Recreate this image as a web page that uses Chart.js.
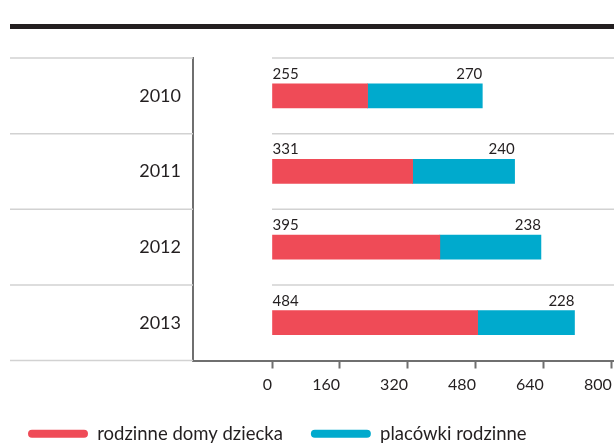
<!DOCTYPE html>
<html>
<head>
<meta charset="utf-8">
<script src="https://cdn.jsdelivr.net/npm/chart.js@4.4.1/dist/chart.umd.min.js"></script>
<style>
  html, body { margin: 0; padding: 0; background: #fff; overflow: hidden; }
  #wrap { position: relative; width: 614px; height: 443px; }
  #topRule { position: absolute; left: 10px; top: 24px; width: 604px; height: 5px; background: #231f20; }
  canvas { position: absolute; left: 0; top: 0; }
</style>
</head>
<body>
<div id="wrap">
  <canvas id="chart" width="614" height="443"></canvas>
  <div id="topRule"></div>
</div>
<script>
const years = ['2010', '2011', '2012', '2013'];
// bar lengths as drawn in the picture (the 2010 bar is drawn shorter than its printed label)
const domyValues = [225, 331, 395, 484];
const domyLabels = ['255', '331', '395', '484'];
const placowkiValues = [270, 240, 238, 228];
const placowkiLabels = ['270', '240', '238', '228'];
const xTicks = [0, 160, 320, 480, 640, 800];

const RED = '#ef4b57';
const BLUE = '#00aacd';
const FONT = 'Lato, "Open Sans", sans-serif';

// horizontal separators between years: left part under the labels, right part from value 0
const separators = {
  id: 'separators',
  beforeDatasetsDraw(chart) {
    const { ctx, scales: { x, y }, chartArea } = chart;
    const step = y.getPixelForTick(1) - y.getPixelForTick(0);
    const x0 = x.getPixelForValue(0);
    ctx.save();
    ctx.strokeStyle = '#d2d2d2';
    ctx.lineWidth = 1.5;
    for (let i = 0; i <= years.length; i++) {
      const py = y.getPixelForTick(0) - step / 2 + i * step;
      ctx.beginPath();
      ctx.moveTo(10, py);
      ctx.lineTo(chartArea.left, py);
      if (i < years.length) {
        ctx.moveTo(x0, py);
        ctx.lineTo(chart.width, py);
      }
      ctx.stroke();
    }
    ctx.restore();
  }
};

// value labels above the bars
const valueLabels = {
  id: 'valueLabels',
  afterDatasetsDraw(chart) {
    const { ctx } = chart;
    ctx.save();
    ctx.font = '15px ' + FONT;
    ctx.fillStyle = '#231f20';
    ctx.textBaseline = 'alphabetic';
    const red = chart.getDatasetMeta(0).data;
    const blue = chart.getDatasetMeta(1).data;
    red.forEach((bar, i) => {
      const top = bar.y - bar.height / 2;
      ctx.textAlign = 'left';
      ctx.fillText(domyLabels[i], bar.base, top - 5);
      ctx.textAlign = 'right';
      ctx.fillText(placowkiLabels[i], blue[i].x, top - 5);
    });
    ctx.restore();
  }
};

new Chart(document.getElementById('chart'), {
  type: 'bar',
  data: {
    labels: years,
    datasets: [
      { label: 'rodzinne domy dziecka', data: domyValues, backgroundColor: RED, borderColor: RED, barThickness: 24 },
      { label: 'placówki rodzinne', data: placowkiValues, backgroundColor: BLUE, borderColor: BLUE, barThickness: 24 }
    ]
  },
  options: {
    indexAxis: 'y',
    responsive: false,
    animation: false,
    layout: { padding: { top: 58, left: 0, right: 0, bottom: -10 } },
    scales: {
      x: {
        stacked: true,
        min: -186,
        max: 805,
        afterBuildTicks: scale => { scale.ticks = xTicks.map(v => ({ value: v })); },
        afterFit: scale => { scale.height = 36; },
        border: { display: true, color: '#6f6f6f', width: 2 },
        grid: { drawOnChartArea: false, drawTicks: true, tickLength: 8, tickColor: '#6f6f6f', tickWidth: 2 },
        ticks: { align: 'end', padding: 0, color: '#231f20', font: { family: FONT, size: 16, lineHeight: 2 }, maxRotation: 0 }
      },
      y: {
        stacked: true,
        afterFit: scale => { scale.width = 193; },
        border: { display: true, color: '#6f6f6f', width: 2 },
        grid: { display: false, drawTicks: false },
        ticks: { padding: 12, color: '#231f20', font: { family: FONT, size: 18 } }
      }
    },
    plugins: {
      legend: {
        position: 'bottom',
        align: 'start',
        labels: {
          boxWidth: 60,
          boxHeight: 8,
          useBorderRadius: true,
          borderRadius: 4,
          padding: 28,
          color: '#231f20',
          font: { family: FONT, size: 18.5 }
        }
      },
      tooltip: { enabled: false }
    }
  },
  plugins: [separators, valueLabels]
});
</script>
</body>
</html>
